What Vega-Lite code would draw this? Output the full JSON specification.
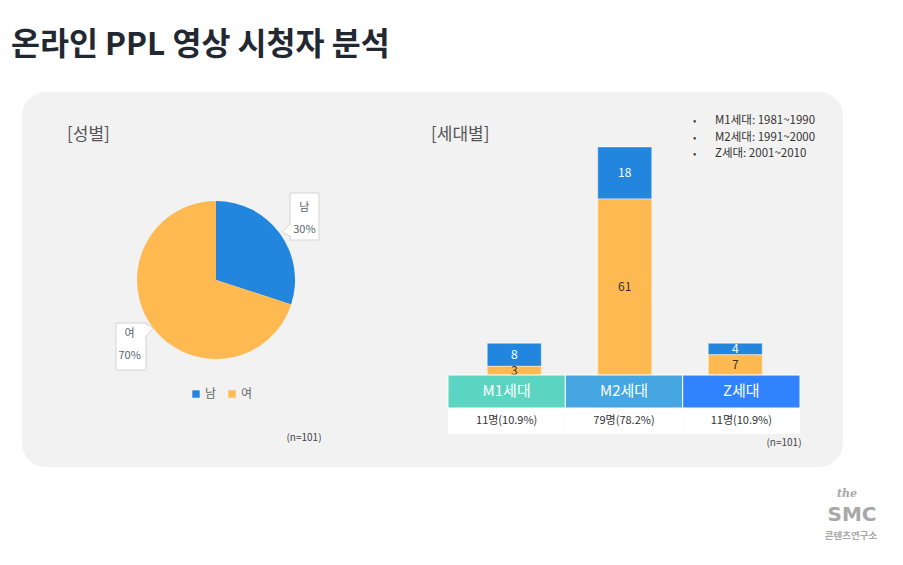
{
  "$schema": "https://vega.github.io/schema/vega-lite/v6.json",
  "width": 903,
  "height": 565,
  "autosize": {"type": "fit", "contains": "padding"},
  "padding": 0,
  "background": "#ffffff",
  "config": {"view": {"stroke": null}, "font": "Noto Sans CJK KR"},
  "datasets": {
    "gender": [
      {"성별": "남", "비율": 30, "라벨": "남\n30%"},
      {"성별": "여", "비율": 70, "라벨": "여\n70%"}
    ],
    "generation": [
      {"세대": "M1세대", "성별": "남", "인원": 8},
      {"세대": "M1세대", "성별": "여", "인원": 3},
      {"세대": "M2세대", "성별": "남", "인원": 18},
      {"세대": "M2세대", "성별": "여", "인원": 61},
      {"세대": "Z세대", "성별": "남", "인원": 4},
      {"세대": "Z세대", "성별": "여", "인원": 7}
    ],
    "genTotal": [
      {"세대": "M1세대", "인원": 11, "라벨": "11명(10.9%)"},
      {"세대": "M2세대", "인원": 79, "라벨": "79명(78.2%)"},
      {"세대": "Z세대", "인원": 11, "라벨": "11명(10.9%)"}
    ]
  },
  "data": {"values": [{}]},
  "resolve": {"scale": {"x": "independent", "y": "independent", "fill": "independent"}},
  "layer": [
    {
      "mark": {"type": "rect", "x": 22, "y": 92, "x2": 843, "y2": 467, "fill": "#f2f2f2", "cornerRadius": 24},
      "encoding": {}
    },
    {
      "mark": {"type": "text", "text": "온라인 PPL 영상 시청자 분석", "x": 11, "y": 46, "align": "left", "baseline": "middle", "fontSize": 31.5, "fontWeight": "bold", "fill": "#222831"},
      "encoding": {}
    },
    {
      "mark": {"type": "text", "text": "[성별]", "x": 67, "y": 135, "align": "left", "baseline": "middle", "fontSize": 17, "fill": "#555555"},
      "encoding": {}
    },
    {
      "mark": {"type": "text", "text": "[세대별]", "x": 431, "y": 135, "align": "left", "baseline": "middle", "fontSize": 17, "fill": "#555555"},
      "encoding": {}
    },
    {
      "mark": {"type": "text", "text": "•\n•\n•", "lineBreak": "\n", "lineHeight": 16.5, "x": 693, "y": 121, "align": "left", "baseline": "middle", "fontSize": 10, "fill": "#444444"},
      "encoding": {}
    },
    {
      "mark": {"type": "text", "text": "M1세대: 1981~1990\nM2세대: 1991~2000\nZ세대: 2001~2010", "lineBreak": "\n", "lineHeight": 16.5, "x": 715, "y": 121, "align": "left", "baseline": "middle", "fontSize": 11.5, "fill": "#333333"},
      "encoding": {}
    },
    {
      "data": {"name": "gender"},
      "mark": {"type": "arc", "x": 216, "y": 280, "outerRadius": 79},
      "encoding": {
        "theta": {"field": "비율", "type": "quantitative", "stack": true},
        "color": {
          "field": "성별",
          "type": "nominal",
          "scale": {"domain": ["남", "여"], "range": ["#2286DF", "#FFB951"]},
          "legend": {
            "orient": "none",
            "legendX": 190,
            "legendY": 388,
            "direction": "horizontal",
            "title": null,
            "symbolType": "square",
            "symbolSize": 55,
            "symbolStrokeWidth": 0,
            "labelFontSize": 12,
            "labelColor": "#666666",
            "labelOffset": 3,
            "columnPadding": 9
          }
        }
      }
    },
    {
      "mark": {"type": "rect", "x": 290, "y": 193, "x2": 319, "y2": 240, "fill": "#ffffff", "stroke": "#d4d4d4", "strokeWidth": 1},
      "encoding": {}
    },
    {
      "mark": {"type": "point", "x": 290, "y": 230, "size": 64, "shape": "M0.3,-1.75L-2,0.5L0.3,1.75", "filled": false, "fill": "#ffffff", "fillOpacity": 1, "stroke": "#d4d4d4", "strokeWidth": 1, "opacity": 1},
      "encoding": {}
    },
    {
      "mark": {"type": "rect", "x": 116, "y": 323, "x2": 146, "y2": 370, "fill": "#ffffff", "stroke": "#d4d4d4", "strokeWidth": 1},
      "encoding": {}
    },
    {
      "mark": {"type": "point", "x": 146, "y": 330, "size": 64, "shape": "M-0.3,-1.75L1.75,-0.5L-0.3,2", "filled": false, "fill": "#ffffff", "fillOpacity": 1, "stroke": "#d4d4d4", "strokeWidth": 1, "opacity": 1},
      "encoding": {}
    },
    {
      "data": {"name": "gender"},
      "mark": {"type": "text", "x": 216, "y": 280, "radius": 108, "dx": 1, "dy": -9, "baseline": "middle", "lineBreak": "\n", "lineHeight": 22, "fontSize": 11, "fill": "#5a6470"},
      "encoding": {
        "theta": {"field": "비율", "type": "quantitative", "stack": true},
        "text": {"field": "라벨"}
      }
    },
    {
      "data": {"name": "generation"},
      "mark": {"type": "bar", "width": 54, "stroke": "#ffffff", "strokeWidth": 0.6, "strokeOpacity": 0.7},
      "encoding": {
        "x": {"field": "세대", "type": "nominal", "sort": null, "axis": null, "scale": {"range": [459, 790.5], "paddingInner": 0, "paddingOuter": 0}},
        "y": {"field": "인원", "type": "quantitative", "stack": "zero", "axis": null, "scale": {"domain": [0, 79], "range": [375, 147], "nice": false}},
        "color": {"field": "성별", "type": "nominal"},
        "order": {"field": "성별", "sort": "descending"}
      }
    },
    {
      "data": {"name": "generation"},
      "transform": [
        {"stack": "인원", "groupby": ["세대"], "sort": [{"field": "성별", "order": "descending"}], "as": ["y0", "y1"]},
        {"calculate": "(datum.y0 + datum.y1) / 2", "as": "mid"}
      ],
      "mark": {"type": "text", "fontSize": 12, "baseline": "middle"},
      "encoding": {
        "x": {"field": "세대", "type": "nominal", "sort": null, "axis": null, "scale": {"range": [459, 790.5], "paddingInner": 0, "paddingOuter": 0}},
        "y": {"field": "mid", "type": "quantitative", "axis": null, "scale": {"domain": [0, 79], "range": [375, 147], "nice": false}},
        "text": {"field": "인원"},
        "fill": {"condition": {"test": "datum['성별'] === '남'", "value": "#ffffff"}, "value": "#333333"}
      }
    },
    {
      "data": {"name": "genTotal"},
      "mark": {"type": "rect", "y": 375, "y2": 408, "stroke": "#ffffff", "strokeWidth": 1},
      "encoding": {
        "x": {"field": "세대", "type": "nominal", "sort": null, "axis": null, "scale": {"range": [448, 800], "paddingInner": 0, "paddingOuter": 0}},
        "fill": {"field": "세대", "type": "nominal", "sort": null, "legend": null, "scale": {"domain": ["M1세대", "M2세대", "Z세대"], "range": ["#5CD4C2", "#45A6E1", "#3182FE"]}}
      }
    },
    {
      "data": {"name": "genTotal"},
      "mark": {"type": "rect", "y": 408, "y2": 434, "fill": "#ffffff"},
      "encoding": {
        "x": {"field": "세대", "type": "nominal", "sort": null, "axis": null, "scale": {"range": [448, 800], "paddingInner": 0, "paddingOuter": 0}}
      }
    },
    {
      "data": {"name": "genTotal"},
      "mark": {"type": "text", "y": 391, "baseline": "middle", "fontSize": 15, "fill": "#ffffff"},
      "encoding": {
        "x": {"field": "세대", "type": "nominal", "sort": null, "axis": null, "scale": {"range": [448, 800], "paddingInner": 0, "paddingOuter": 0}},
        "text": {"field": "세대"}
      }
    },
    {
      "data": {"name": "genTotal"},
      "mark": {"type": "text", "y": 421, "baseline": "middle", "fontSize": 11, "fill": "#333333"},
      "encoding": {
        "x": {"field": "세대", "type": "nominal", "sort": null, "axis": null, "scale": {"range": [448, 800], "paddingInner": 0, "paddingOuter": 0}},
        "text": {"field": "라벨"}
      }
    },
    {
      "mark": {"type": "text", "text": "(n=101)", "x": 304, "y": 438, "align": "center", "baseline": "middle", "fontSize": 10, "fill": "#444444"},
      "encoding": {}
    },
    {
      "mark": {"type": "text", "text": "(n=101)", "x": 784, "y": 443, "align": "center", "baseline": "middle", "fontSize": 10, "fill": "#444444"},
      "encoding": {}
    },
    {
      "mark": {"type": "text", "text": "the", "x": 847, "y": 494, "align": "center", "baseline": "middle", "fontSize": 11, "font": "DejaVu Serif", "fontStyle": "italic", "fontWeight": "bold", "fill": "#a8a8a8"},
      "encoding": {}
    },
    {
      "mark": {"type": "text", "text": "SMC", "x": 852, "y": 515, "align": "center", "baseline": "middle", "fontSize": 20, "font": "DejaVu Sans", "fontWeight": "bold", "letterSpacing": 2, "fill": "#a8a8a8"},
      "encoding": {}
    },
    {
      "mark": {"type": "text", "text": "콘텐츠연구소", "x": 851, "y": 535.5, "align": "center", "baseline": "middle", "fontSize": 9.5, "fontWeight": "bold", "fill": "#a8a8a8"},
      "encoding": {}
    }
  ]
}
